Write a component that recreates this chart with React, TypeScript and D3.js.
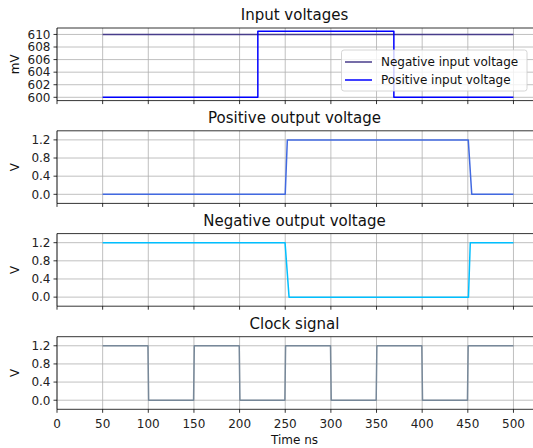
import React from "react";
import * as d3 from "d3";

// ---- data ----
const xTicks = [0, 50, 100, 150, 200, 250, 300, 350, 400, 450, 500];
const mvTicks = [600, 602, 604, 606, 608, 610];
const vTicks = [0, 0.4, 0.8, 1.2];

const negInputT = [50, 500];
const negInputV = [610, 610];
const posInputT = [50, 220, 220, 369, 369, 500];
const posInputV = [600, 600, 610.5, 610.5, 600, 600];

const posOutT = [50, 250, 252.3, 450.5, 454.3, 500];
const posOutV = [0, 0, 1.2, 1.2, 0, 0];

const negOutT = [50, 249.8, 254.2, 450.7, 452.7, 500];
const negOutV = [1.2, 1.2, 0, 0, 1.2, 1.2];

const clockT = [50, 99.6, 100.4, 149.6, 150.4, 199.6, 200.4, 249.6, 250.4, 299.6, 300.4, 349.6, 350.4, 399.6, 400.4, 449.6, 450.4, 500];
const clockV = [1.2, 1.2, 0, 0, 1.2, 1.2, 0, 0, 1.2, 1.2, 0, 0, 1.2, 1.2, 0, 0, 1.2, 1.2];

const titles = ["Input voltages", "Positive output voltage", "Negative output voltage", "Clock signal"];
const legendLabels = ["Negative input voltage", "Positive input voltage"];

const W = 533, H = 448;
const left = 57, right = 534;
const panelTops = [28, 130.8, 233.6, 336.7];
const panelH = 72.6;
const font = "DejaVu Sans, sans-serif";
const tickFs = 12;
const titleFs = 15;

const x = d3.scaleLinear().domain([0, 522.5]).range([left, right]);

type Series = { t: number[]; v: number[]; color: string };

function Panel({ idx, yDomain, yTicks, yFmt, ylabel, series, showX, legend }: {
  idx: number; yDomain: [number, number]; yTicks: number[]; yFmt: (v: number) => string;
  ylabel: string; series: Series[]; showX: boolean; legend?: boolean;
}) {
  const top = panelTops[idx];
  const bottom = top + panelH;
  const y = d3.scaleLinear().domain(yDomain).range([bottom, top]);
  const line = d3.line<[number, number]>().x(d => x(d[0])).y(d => y(d[1]));
  const clipId = `clip${idx}`;
  return (
    <g>
      <defs>
        <clipPath id={clipId}><rect x={left} y={top} width={right - left} height={panelH} /></clipPath>
      </defs>
      <rect x={left} y={top} width={right - left} height={panelH} fill="white" />
      {xTicks.map(t => (
        <line key={"gx" + t} x1={x(t)} x2={x(t)} y1={top} y2={bottom} stroke="#b0b0b0" strokeWidth={0.8} />
      ))}
      {yTicks.map(t => (
        <line key={"gy" + t} x1={left} x2={right} y1={y(t)} y2={y(t)} stroke="#b0b0b0" strokeWidth={0.8} />
      ))}
      <g clipPath={`url(#${clipId})`}>
        {series.map((s, i) => (
          <path key={i} d={line(s.t.map((t, j) => [t, s.v[j]] as [number, number])) || ""}
            fill="none" stroke={s.color} strokeWidth={1.5} strokeLinejoin="round" />
        ))}
      </g>
      {/* spines */}
      <line x1={left} x2={right} y1={top} y2={top} stroke="black" strokeWidth={0.8} />
      <line x1={left} x2={right} y1={bottom} y2={bottom} stroke="black" strokeWidth={0.8} />
      <line x1={left} x2={left} y1={top} y2={bottom} stroke="black" strokeWidth={0.8} />
      {xTicks.map(t => (
        <g key={"tx" + t}>
          <line x1={x(t)} x2={x(t)} y1={bottom} y2={bottom + 3.5} stroke="black" strokeWidth={0.8} />
          {showX && (
            <text x={x(t)} y={bottom + 19} textAnchor="middle" fontSize={tickFs} fontFamily={font} fill="#222">{t}</text>
          )}
        </g>
      ))}
      {yTicks.map(t => (
        <g key={"ty" + t}>
          <line x1={left - 3.5} x2={left} y1={y(t)} y2={y(t)} stroke="black" strokeWidth={0.8} />
          <text x={left - 6.5} y={y(t)} dy="0.36em" textAnchor="end" fontSize={tickFs} fontFamily={font} fill="#222">{yFmt(t)}</text>
        </g>
      ))}
      <text x={(left + right) / 2 - 1} y={top - 8} textAnchor="middle" fontSize={titleFs} fontFamily={font} fill="#111">{titles[idx]}</text>
      <text transform={`translate(${15},${(top + bottom) / 2}) rotate(-90)`} textAnchor="middle" dy="0.36em" fontSize={tickFs} fontFamily={font} fill="#111">{ylabel}</text>
      {showX && (
        <text x={(left + right) / 2 - 1} y={bottom + 35} textAnchor="middle" fontSize={tickFs} fontFamily={font} fill="#111">Time ns</text>
      )}
      {legend && (
        <g>
          <rect x={341.5} y={50} width={185.5} height={41} rx={2.5} fill="white" fillOpacity={0.8} stroke="#cccccc" strokeWidth={0.8} />
          {series.map((s, i) => (
            <g key={"lg" + i}>
              <line x1={345} x2={372} y1={62 + i * 18} y2={62 + i * 18} stroke={s.color} strokeWidth={1.5} />
              <text x={381} y={62 + i * 18} dy="0.36em" fontSize={tickFs} fontFamily={font} fill="#111">{legendLabels[i]}</text>
            </g>
          ))}
        </g>
      )}
    </g>
  );
}

export default function App() {
  const vFmt = (v: number) => v.toFixed(1);
  return (
    <svg width={W} height={H} style={{ position: "absolute", left: 0, top: 0, background: "white" }}>
      <rect width={W} height={H} fill="white" />
      <Panel idx={0} yDomain={[599.475, 611.025]} yTicks={mvTicks} yFmt={v => String(v)} ylabel="mV"
        series={[{ t: negInputT, v: negInputV, color: "#483d8b" }, { t: posInputT, v: posInputV, color: "#0000ff" }]}
        showX={false} legend />
      <Panel idx={1} yDomain={[-0.2, 1.4]} yTicks={vTicks} yFmt={vFmt} ylabel="V"
        series={[{ t: posOutT, v: posOutV, color: "#4169e1" }]} showX={false} />
      <Panel idx={2} yDomain={[-0.2, 1.4]} yTicks={vTicks} yFmt={vFmt} ylabel="V"
        series={[{ t: negOutT, v: negOutV, color: "#00bfff" }]} showX={false} />
      <Panel idx={3} yDomain={[-0.2, 1.4]} yTicks={vTicks} yFmt={vFmt} ylabel="V"
        series={[{ t: clockT, v: clockV, color: "#778899" }]} showX={true} />
    </svg>
  );
}
